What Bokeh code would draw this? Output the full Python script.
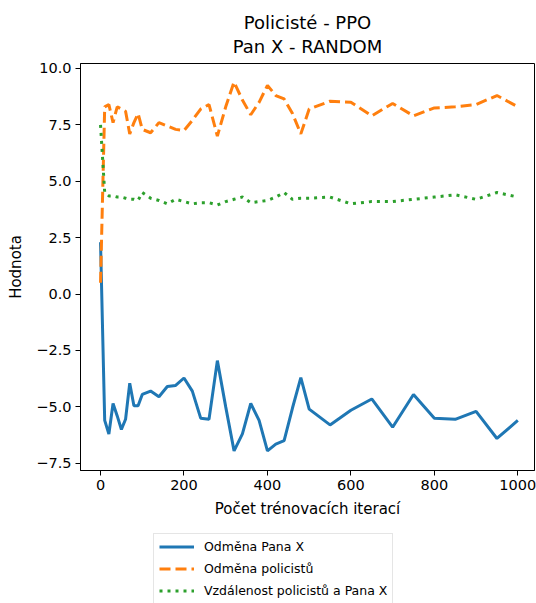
from bokeh.plotting import figure
from bokeh.models import Legend, LegendItem, FixedTicker, Range1d
from bokeh.layouts import column
from bokeh.embed import file_html
from bokeh.resources import INLINE

iterations = [0, 10, 20, 30, 40, 50, 60, 70, 80, 90, 100,
              120, 140, 160, 180, 200, 220, 240, 260, 280, 300,
              320, 340, 360, 380, 400, 420, 440, 460, 480, 500,
              550, 600, 650, 700, 750, 800, 850, 900, 950, 1000]

odmena_pana_x = [2.3, -5.6, -6.2, -4.85, -5.4, -6.0, -5.55, -3.95, -4.95, -4.95, -4.45,
                 -4.3, -4.55, -4.1, -4.05, -3.72, -4.3, -5.5, -5.55, -2.95, -5.0,
                 -6.95, -6.2, -4.85, -5.6, -6.95, -6.65, -6.5, -5.05, -3.7, -5.1,
                 -5.8, -5.15, -4.65, -5.9, -4.45, -5.5, -5.55, -5.2, -6.4, -5.6]

odmena_policistu = [0.5, 8.3, 8.4, 7.6, 8.3, 8.2, 8.1, 7.1, 7.6, 8.0, 7.3,
                    7.15, 7.6, 7.45, 7.3, 7.25, 7.7, 8.2, 8.4, 7.0, 8.3,
                    9.4, 8.6, 7.95, 8.5, 9.25, 8.8, 8.65, 8.0, 7.1, 8.2,
                    8.55, 8.5, 7.9, 8.45, 7.9, 8.25, 8.3, 8.4, 8.8, 8.3]

vzdalenost = [7.5, 4.5, 4.35, 4.35, 4.3, 4.3, 4.25, 4.2, 4.2, 4.15, 4.5,
              4.25, 4.15, 4.0, 4.2, 4.1, 4.0, 4.05, 4.05, 3.95, 4.1,
              4.2, 4.3, 4.05, 4.1, 4.15, 4.3, 4.5, 4.2, 4.25, 4.25,
              4.3, 4.0, 4.1, 4.1, 4.2, 4.3, 4.4, 4.2, 4.5, 4.3]

series_labels = ["Odměna Pana X", "Odměna policistů", "Vzdálenost policistů a Pana X"]
series_colors = ["#1f77b4", "#ff7f0e", "#2ca02c"]
series_dashes = ["solid", "11 5", "3 5"]
x_ticks = [0, 200, 400, 600, 800, 1000]
y_ticks = [-7.5, -5.0, -2.5, 0.0, 2.5, 5.0, 7.5, 10.0]
title_lines = ["Policisté - PPO", "Pan X - RANDOM"]

FONT = "DejaVu Sans"
series_values = [odmena_pana_x, odmena_policistu, vzdalenost]

# ---- title strip (pixel-like coordinates: x across frame, y downwards) ----
hd = figure(width=536, height=55, x_range=Range1d(0, 1), y_range=Range1d(55, 0),
            output_backend="svg", toolbar_location=None,
            min_border_left=80, min_border_right=2, min_border_top=0, min_border_bottom=0)
hd.axis.visible = False
hd.grid.visible = False
hd.outline_line_color = None
hd.background_fill_color = "white"
hd.border_fill_color = "white"
hd.text(x=[0.5, 0.5], y=[21.5, 45.5], text=title_lines,
        text_align="center", text_baseline="middle",
        text_font={"value": FONT}, text_font_size="18px", text_color="#000000")

# ---- main chart ----
p = figure(width=536, height=470,
           x_range=Range1d(-48, 1040), y_range=Range1d(-7.82, 10.22),
           output_backend="svg", toolbar_location=None,
           min_border_left=80, min_border_right=2,
           min_border_top=8, min_border_bottom=55)

p.grid.visible = False
p.outline_line_color = "#000000"
p.outline_line_width = 1
p.outline_line_alpha = 1
p.background_fill_color = "white"
p.border_fill_color = "white"

for ax in (p.xaxis[0], p.yaxis[0]):
    ax.axis_line_color = "#000000"
    ax.major_tick_line_color = "#000000"
    ax.major_tick_out = 5
    ax.major_tick_in = 0
    ax.minor_tick_line_color = None
    ax.major_label_text_font = FONT
    ax.major_label_text_font_size = "14.5px"
    ax.major_label_text_color = "#000000"
    ax.axis_label_text_font = FONT
    ax.axis_label_text_font_size = "15px"
    ax.axis_label_text_font_style = "normal"
    ax.axis_label_text_color = "#000000"

p.xaxis.ticker = FixedTicker(ticks=x_ticks)
p.yaxis.ticker = FixedTicker(ticks=y_ticks)
p.yaxis.major_label_overrides = {v: ("%.1f" % v).replace("-", "\u2212") for v in y_ticks}
p.xaxis.axis_label = "Počet trénovacích iterací"
p.yaxis.axis_label = "Hodnota"
p.xaxis.major_label_standoff = 4
p.xaxis.axis_label_standoff = 7
p.yaxis.major_label_standoff = 4
p.yaxis.axis_label_standoff = 8

for vals, col, dash in zip(series_values, series_colors, series_dashes):
    p.line(iterations, vals, line_color=col, line_width=3, line_dash=dash)

# ---- legend strip below the chart ----
lg = figure(width=536, height=78, x_range=Range1d(0, 1), y_range=Range1d(100, 101),
            output_backend="svg", toolbar_location=None,
            min_border_left=80, min_border_right=2, min_border_top=0, min_border_bottom=0)
lg.axis.visible = False
lg.grid.visible = False
lg.outline_line_color = None
lg.background_fill_color = "white"
lg.border_fill_color = "white"

items = []
for lab, vals, col, dash in zip(series_labels, series_values, series_colors, series_dashes):
    r = lg.line(iterations, vals, line_color=col, line_width=3, line_dash=dash)
    items.append(LegendItem(label=lab, renderers=[r]))

legend = Legend(items=items, location=(73, -1),
                label_text_font=FONT, label_text_font_size="12.5px",
                label_text_color="#000000",
                glyph_width=35, glyph_height=15, label_height=15,
                label_standoff=10, spacing=7, padding=5, margin=0,
                border_line_color="#cccccc", border_line_width=1,
                background_fill_color="white", background_fill_alpha=1)
lg.add_layout(legend)

layout = column(hd, p, lg, spacing=0)
open("out.html", "w").write(file_html(layout, INLINE))
